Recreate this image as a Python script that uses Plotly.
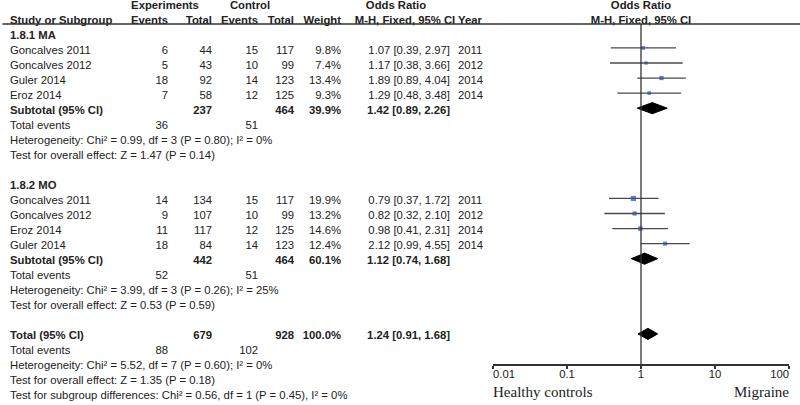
import plotly.graph_objects as go

# ---------------- data ----------------
ma_names = ["Goncalves 2011", "Goncalves 2012", "Guler 2014", "Eroz 2014"]
ma_exp_events = [6, 5, 18, 7]
ma_exp_total = [44, 43, 92, 58]
ma_ctl_events = [15, 10, 14, 12]
ma_ctl_total = [117, 99, 123, 125]
ma_weight = [9.8, 7.4, 13.4, 9.3]
ma_or = [1.07, 1.17, 1.89, 1.29]
ma_lo = [0.39, 0.38, 0.89, 0.48]
ma_hi = [2.97, 3.66, 4.04, 3.48]
ma_year = [2011, 2012, 2014, 2014]
ma_sub = dict(exp_total=237, ctl_total=464, weight=39.9, or_=1.42, lo=0.89, hi=2.26,
              exp_events=36, ctl_events=51,
              het="Heterogeneity: Chi² = 0.99, df = 3 (P = 0.80); I² = 0%",
              test="Test for overall effect: Z = 1.47 (P = 0.14)")

mo_names = ["Goncalves 2011", "Goncalves 2012", "Eroz 2014", "Guler 2014"]
mo_exp_events = [14, 9, 11, 18]
mo_exp_total = [134, 107, 117, 84]
mo_ctl_events = [15, 10, 12, 14]
mo_ctl_total = [117, 99, 125, 123]
mo_weight = [19.9, 13.2, 14.6, 12.4]
mo_or = [0.79, 0.82, 0.98, 2.12]
mo_lo = [0.37, 0.32, 0.41, 0.99]
mo_hi = [1.72, 2.10, 2.31, 4.55]
mo_year = [2011, 2012, 2014, 2014]
mo_sub = dict(exp_total=442, ctl_total=464, weight=60.1, or_=1.12, lo=0.74, hi=1.68,
              exp_events=52, ctl_events=51,
              het="Heterogeneity: Chi² = 3.99, df = 3 (P = 0.26); I² = 25%",
              test="Test for overall effect: Z = 0.53 (P = 0.59)")

total = dict(exp_total=679, ctl_total=928, weight=100.0, or_=1.24, lo=0.91, hi=1.68,
             exp_events=88, ctl_events=102,
             het="Heterogeneity: Chi² = 5.52, df = 7 (P = 0.60); I² = 0%",
             test="Test for overall effect: Z = 1.35 (P = 0.18)",
             subgroup="Test for subgroup differences: Chi² = 0.56, df = 1 (P = 0.45), I² = 0%")

axis_ticks = [0.01, 0.1, 1, 10, 100]
axis_tick_labels = ["0.01", "0.1", "1", "10", "100"]
left_label = "Healthy controls"
right_label = "Migraine"

# ---------------- layout constants ----------------
W, H = 800, 405
TEXT_COLOR = "#222222"
FONT = "Arial, Liberation Sans, sans-serif"
SERIF = "Times New Roman, Liberation Serif, serif"
FS = 11.3
X_NAME, X_EE, X_ET, X_CE, X_CT, X_W, X_OR, X_YEAR = 10, 168, 212, 258, 294, 341, 450, 458

tx, ty, tt, tp = [], [], [], []


def add(x, row, text, pos, bold=False):
    tx.append(x)
    ty.append(row)
    tt.append(f"<b>{text}</b>" if bold else text)
    tp.append(pos)


R, L, C = "middle left", "middle right", "middle center"

# headers
add(165, 0, "Experiments", C, True)
add(250, 0, "Control", C, True)
add(396, 0, "Odds Ratio", C, True)
add(X_NAME, 1, "Study or Subgroup", L, True)
add(X_EE, 1, "Events", R, True)
add(X_ET, 1, "Total", R, True)
add(X_CE, 1, "Events", R, True)
add(X_CT, 1, "Total", R, True)
add(X_W, 1, "Weight", R, True)
add(405, 1, "M-H, Fixed, 95% CI", C, True)
add(X_YEAR, 1, "Year", L, True)


def fmt_or(o, lo, hi):
    return f"{o:.2f} [{lo:.2f}, {hi:.2f}]"


groups = [
    ("1.8.1 MA", 2, ma_names, ma_exp_events, ma_exp_total, ma_ctl_events, ma_ctl_total,
     ma_weight, ma_or, ma_lo, ma_hi, ma_year, ma_sub),
    ("1.8.2 MO", 12, mo_names, mo_exp_events, mo_exp_total, mo_ctl_events, mo_ctl_total,
     mo_weight, mo_or, mo_lo, mo_hi, mo_year, mo_sub),
]

study_rows, study_or, study_lo, study_hi, study_w = [], [], [], [], []
diamonds = []

for (title, r0, names, ee, et, ce, ct, w, o, lo, hi, yr, sub) in groups:
    add(X_NAME, r0, title, L, True)
    for i in range(len(names)):
        r = r0 + 1 + i
        add(X_NAME, r, names[i], L)
        add(X_EE, r, str(ee[i]), R)
        add(X_ET, r, str(et[i]), R)
        add(X_CE, r, str(ce[i]), R)
        add(X_CT, r, str(ct[i]), R)
        add(X_W, r, f"{w[i]:.1f}%", R)
        add(X_OR, r, fmt_or(o[i], lo[i], hi[i]), R)
        add(X_YEAR, r, str(yr[i]), L)
        study_rows.append(r)
        study_or.append(o[i])
        study_lo.append(lo[i])
        study_hi.append(hi[i])
        study_w.append(w[i])
    rs = r0 + 1 + len(names)
    add(X_NAME, rs, "Subtotal (95% CI)", L, True)
    add(X_ET, rs, str(sub["exp_total"]), R, True)
    add(X_CT, rs, str(sub["ctl_total"]), R, True)
    add(X_W, rs, f"{sub['weight']:.1f}%", R, True)
    add(X_OR, rs, fmt_or(sub["or_"], sub["lo"], sub["hi"]), R, True)
    diamonds.append((rs, sub["or_"], sub["lo"], sub["hi"]))
    add(X_NAME, rs + 1, "Total events", L)
    add(X_EE, rs + 1, str(sub["exp_events"]), R)
    add(X_CE, rs + 1, str(sub["ctl_events"]), R)
    add(X_NAME, rs + 2, sub["het"], L)
    add(X_NAME, rs + 3, sub["test"], L)

rt = 22
add(X_NAME, rt, "Total (95% CI)", L, True)
add(X_ET, rt, str(total["exp_total"]), R, True)
add(X_CT, rt, str(total["ctl_total"]), R, True)
add(X_W, rt, f"{total['weight']:.1f}%", R, True)
add(X_OR, rt, fmt_or(total["or_"], total["lo"], total["hi"]), R, True)
diamonds.append((rt, total["or_"], total["lo"], total["hi"]))
add(X_NAME, rt + 1, "Total events", L)
add(X_EE, rt + 1, str(total["exp_events"]), R)
add(X_CE, rt + 1, str(total["ctl_events"]), R)
add(X_NAME, rt + 2, total["het"], L)
add(X_NAME, rt + 3, total["test"], L)
add(X_NAME, rt + 4, total["subgroup"], L)

fig = go.Figure()

# table text
fig.add_trace(go.Scatter(
    x=tx, y=ty, text=tt, textposition=tp, mode="text",
    textfont=dict(family=FONT, size=FS, color=TEXT_COLOR),
    xaxis="x", yaxis="y", hoverinfo="skip", showlegend=False, cliponaxis=False))

# plot headers
fig.add_trace(go.Scatter(
    x=[1, 1], y=[0, 1], text=["<b>Odds Ratio</b>", "<b>M-H, Fixed, 95% CI</b>"],
    mode="text", textposition="middle center",
    textfont=dict(family=FONT, size=FS, color=TEXT_COLOR),
    xaxis="x2", yaxis="y", hoverinfo="skip", showlegend=False, cliponaxis=False))

# CI lines
cx, cy = [], []
for r, lo, hi in zip(study_rows, study_lo, study_hi):
    cx += [lo, hi, None]
    cy += [r, r, None]
fig.add_trace(go.Scatter(
    x=cx, y=cy, mode="lines", line=dict(color="#4a4a4a", width=1.3),
    xaxis="x2", yaxis="y2", hoverinfo="skip", showlegend=False))

# squares
fig.add_trace(go.Scatter(
    x=study_or, y=study_rows, mode="markers",
    marker=dict(symbol="square", color="#2a4bb3",
                size=[2.2 + 0.15 * w for w in study_w], line=dict(width=0)),
    xaxis="x2", yaxis="y2", hoverinfo="skip", showlegend=False))

# diamonds
hh = 0.37
for (r, o, lo, hi) in diamonds:
    fig.add_trace(go.Scatter(
        x=[lo, o, hi, o, lo], y=[r, r - hh, r, r + hh, r],
        mode="lines", fill="toself", fillcolor="black",
        line=dict(color="black", width=1),
        xaxis="x2", yaxis="y2", hoverinfo="skip", showlegend=False))

# tick labels
fig.add_trace(go.Scatter(
    x=axis_ticks, y=[24.72] * len(axis_ticks), text=axis_tick_labels, mode="text",
    textposition=["middle right", "middle center", "middle center", "middle center", "middle left"],
    textfont=dict(family=FONT, size=FS, color=TEXT_COLOR),
    xaxis="x2", yaxis="y2", hoverinfo="skip", showlegend=False, cliponaxis=False))

fig.add_trace(go.Scatter(
    x=[axis_ticks[0], axis_ticks[-1]], y=[25.92, 25.92], text=[left_label, right_label],
    mode="text", textposition=["middle right", "middle left"],
    textfont=dict(family=SERIF, size=15, color=TEXT_COLOR),
    xaxis="x2", yaxis="y2", hoverinfo="skip", showlegend=False, cliponaxis=False))

# geometry
def row_range(offset, step):
    return [(H - offset) / step, -offset / step]

x2_lo, x2_hi = 493, 789
axis_y = 364
top_y = 24

fig.update_layout(
    width=W, height=H, margin=dict(l=0, r=0, t=0, b=0),
    paper_bgcolor="white", plot_bgcolor="rgba(0,0,0,0)",
    xaxis=dict(range=[0, W], domain=[0, 1], visible=False, fixedrange=True),
    yaxis=dict(range=row_range(6.3, 14.98), domain=[0, 1], visible=False, fixedrange=True),
    yaxis2=dict(range=row_range(2.8, 15.05), domain=[0, 1], overlaying="y", visible=False, fixedrange=True),
    xaxis2=dict(type="log", range=[-2, 2], domain=[x2_lo / W, x2_hi / W],
                anchor="free", position=(H - axis_y) / H,
                showline=True, linecolor="#333333", linewidth=1.5,
                ticks="outside", ticklen=3, tickwidth=1.5, tickcolor="#333333",
                tickvals=axis_ticks, showticklabels=False,
                showgrid=False, zeroline=False, fixedrange=True),
    shapes=[
        dict(type="line", xref="paper", yref="paper", x0=0.003, x1=1,
             y0=(H - top_y) / H, y1=(H - top_y) / H, line=dict(color="#333333", width=1.5)),
        dict(type="line", xref="x2", yref="paper", x0=1, x1=1,
             y0=(H - axis_y) / H, y1=(H - top_y) / H, line=dict(color="#333333", width=1.3)),
    ],
)

fig.write_html("out.html", config={"displayModeBar": False, "staticPlot": True},
               post_script="document.body.style.margin='0';document.body.style.overflow='hidden';")
